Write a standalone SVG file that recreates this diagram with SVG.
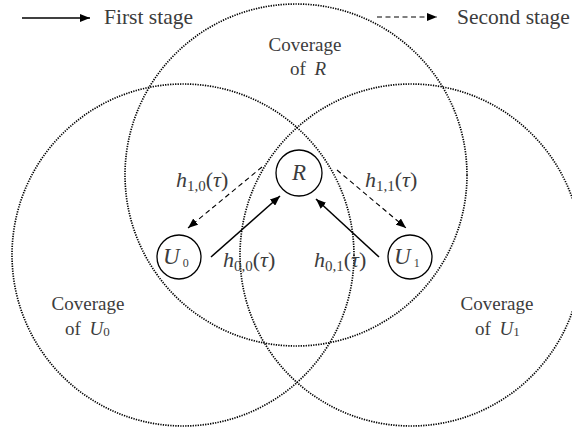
<svg xmlns="http://www.w3.org/2000/svg" width="572" height="428" viewBox="0 0 572 428">
<defs>
<style>
.cov{fill:none;stroke:#000;stroke-width:1.7;stroke-dasharray:1.3 1.2}
.node{fill:#fff;stroke:#000;stroke-width:1.3}
.solid{fill:none;stroke:#000;stroke-width:1.5;marker-end:url(#ah)}
.dash{fill:none;stroke:#000;stroke-width:1.1;stroke-dasharray:5 3.5;marker-end:url(#ah)}
text{font-family:"Liberation Serif","Times New Roman",serif;fill:#3c3c3c}
.leg{font-size:21.5px}
.cv{font-size:19px}
.m{font-size:22px}
.it{font-style:italic}
.sub{font-size:15px}
</style>
<marker id="ah" viewBox="0 0 10 8" refX="10" refY="4" markerWidth="10" markerHeight="8" markerUnits="userSpaceOnUse" orient="auto">
<path d="M0,0 L10,4 L0,8 Z" fill="#000"/>
</marker>
</defs>
<rect width="572" height="428" fill="#fff"/>
<g id="coverage">
<circle class="cov" cx="296" cy="175" r="171"/>
<circle class="cov" cx="183" cy="255" r="171"/>
<circle class="cov" cx="411" cy="255" r="171"/>
</g>
<g id="legend">
<line class="solid" x1="22" y1="18" x2="90" y2="18"/>
<text class="leg" x="104" y="24">First stage</text>
<line class="dash" x1="377" y1="17" x2="437" y2="17"/>
<text class="leg" x="457" y="24">Second stage</text>
</g>
<g id="connectors">
<line class="solid" x1="211" y1="257" x2="280" y2="196"/>
<line class="solid" x1="379" y1="257" x2="316" y2="199"/>
<line class="dash" x1="262" y1="167" x2="188" y2="228"/>
<line class="dash" x1="337" y1="170" x2="406" y2="228"/>
</g>
<g id="node-R">
<circle class="node" cx="299" cy="173" r="23"/>
<text class="it" x="299" y="180" font-size="23" text-anchor="middle">R</text>
</g>
<g id="node-U0">
<circle class="node" cx="179" cy="257" r="22"/>
<text x="163" y="264" font-size="23"><tspan class="it">U</tspan><tspan font-size="12" dx="3" dy="3">0</tspan></text>
</g>
<g id="node-U1">
<circle class="node" cx="410" cy="257" r="22"/>
<text x="394" y="264" font-size="23"><tspan class="it">U</tspan><tspan font-size="12" dx="3" dy="3">1</tspan></text>
</g>
<g id="labels">
<text class="m" x="176" y="187"><tspan class="it">h</tspan><tspan class="sub" dy="4">1,0</tspan><tspan dy="-4">(</tspan><tspan class="it">τ</tspan>)</text>
<text class="m" x="365" y="187"><tspan class="it">h</tspan><tspan class="sub" dy="4">1,1</tspan><tspan dy="-4">(</tspan><tspan class="it">τ</tspan>)</text>
<text class="m" x="223" y="267"><tspan class="it">h</tspan><tspan class="sub" dy="4">0,0</tspan><tspan dy="-4">(</tspan><tspan class="it">τ</tspan>)</text>
<text class="m" x="314" y="267"><tspan class="it">h</tspan><tspan class="sub" dy="4">0,1</tspan><tspan dy="-4">(</tspan><tspan class="it">τ</tspan>)</text>
<text class="cv" x="305" y="51" text-anchor="middle">Coverage</text>
<text class="cv" x="290" y="75">of <tspan class="it" dx="4">R</tspan></text>
<text class="cv" x="88" y="310" text-anchor="middle">Coverage</text>
<text class="cv" x="65" y="335">of <tspan class="it" dx="4">U</tspan><tspan font-size="13" dy="1">0</tspan></text>
<text class="cv" x="497" y="310" text-anchor="middle">Coverage</text>
<text class="cv" x="475" y="335">of <tspan class="it" dx="4">U</tspan><tspan font-size="13" dy="1">1</tspan></text>
</g>
</svg>
